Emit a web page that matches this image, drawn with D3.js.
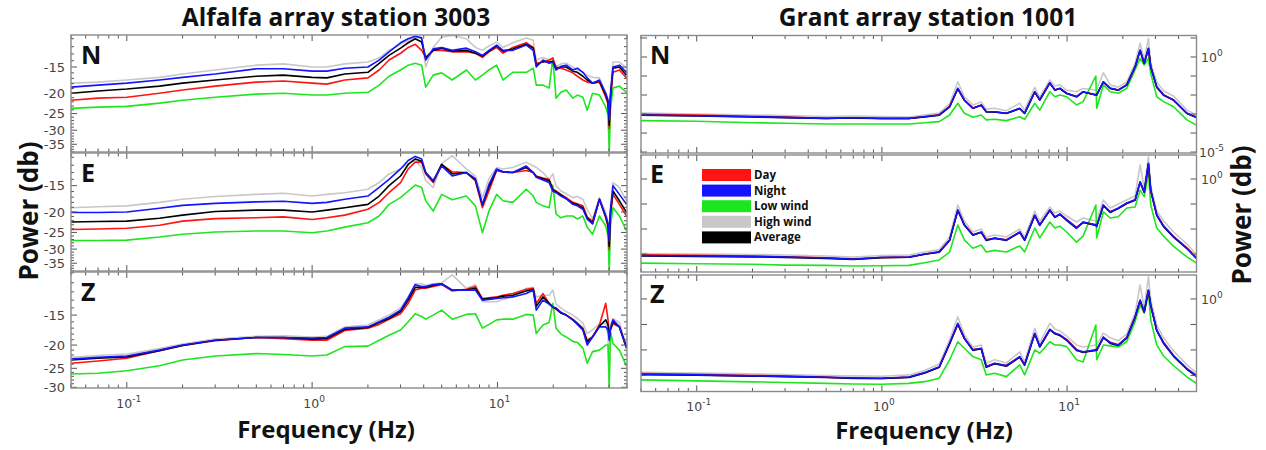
<!DOCTYPE html>
<html>
<head>
<meta charset="utf-8">
<script src="https://cdn.jsdelivr.net/npm/d3@7"></script>
<style>
  body { margin: 0; background: #fff; }
  text { font-family: "Open Sans", "DejaVu Sans", sans-serif; }
</style>
</head>
<body>
<script>
// ---- data: Alfalfa array station 3003 (power in dB) ----
var freqAlfalfa = [0.05, 0.07, 0.1, 0.15, 0.2, 0.3, 0.5, 0.7, 1.0, 1.2, 1.5, 2.0, 2.3, 2.6, 3.0, 3.3, 3.6, 3.9, 4.1, 4.5,
  5.0, 5.7, 6.8, 7.6, 8.3, 9.0, 9.9, 10.7, 12.1, 14.3, 15.6, 16.2, 17.6, 19.0, 19.9, 20.7, 22, 23.5, 25.5, 27,
  28.9, 30.5, 32.6, 35.5, 38.4, 39.5, 40.1, 40.7, 42, 45.5, 49.7];

var alfN_day   = [-21.6,-21.1,-20.9,-20.0,-19.3,-18.5,-17.7,-17.5,-17.9,-18.1,-17.3,-16.9,-15.5,-13.9,-12.9,-12.1,-11.7,-12.5,-13.5,-12.5,-12.5,-12.7,-12.7,-12.9,-13.5,-12.7,-12.1,-12.9,-12.1,-11.5,-12.1,-14.4,-14.2,-13.9,-13.6,-15.0,-15.2,-15.5,-16.0,-16.6,-17.3,-17.7,-17.9,-17.7,-20.9,-22.5,-29.4,-21.6,-15.9,-15.5,-16.9];
var alfN_night = [-18.7,-18.3,-17.9,-17.3,-16.8,-16.2,-15.3,-15.3,-15.7,-15.7,-15.2,-15.0,-13.9,-12.7,-11.5,-11.0,-10.7,-10.9,-13.9,-12.3,-12.1,-12.5,-12.2,-12.7,-13.2,-12.5,-11.8,-12.5,-12.5,-11.8,-12.5,-15.0,-13.9,-14.4,-14.2,-15.5,-14.9,-14.7,-15.5,-15.2,-15.9,-16.9,-17.9,-17.3,-20.0,-21.6,-26.9,-20.4,-15.0,-14.7,-15.9];
var alfN_low   = [-23.6,-23.3,-23.1,-22.3,-21.6,-20.9,-20.2,-20.0,-20.4,-20.4,-20.0,-19.8,-18.3,-16.6,-15.5,-14.7,-14.4,-14.7,-18.7,-16.4,-16.0,-17.3,-15.5,-17.3,-16.4,-15.5,-14.7,-17.3,-15.9,-15.9,-15.2,-18.3,-18.3,-18.9,-13.6,-21.1,-19.8,-19.3,-21.1,-20.4,-20.9,-24.1,-20.0,-20.4,-23.3,-25.5,-37.5,-24.1,-18.9,-18.5,-19.8];
var alfN_high  = [-17.9,-17.7,-17.3,-16.8,-16.2,-15.5,-14.7,-14.5,-15.0,-15.0,-14.5,-14.2,-13.6,-12.5,-11.7,-11.2,-10.8,-11.0,-15.0,-12.1,-10.8,-10.6,-11.0,-12.1,-12.5,-11.9,-11.4,-12.1,-11.5,-10.9,-11.2,-13.9,-13.5,-13.9,-14.4,-14.9,-14.5,-14.4,-15.0,-15.5,-15.9,-16.4,-16.8,-16.9,-20.0,-21.6,-37.5,-19.3,-14.2,-14.2,-15.2];
var alfN_avg   = [-20.0,-19.5,-19.1,-18.5,-17.9,-17.3,-16.6,-16.4,-16.8,-16.9,-16.2,-15.9,-14.4,-13.2,-12.2,-11.5,-11.0,-11.4,-13.6,-12.5,-12.2,-12.6,-12.5,-12.9,-13.3,-12.6,-11.9,-12.6,-12.3,-11.7,-12.2,-14.7,-14.1,-14.2,-14.1,-15.3,-15.0,-15.0,-15.7,-15.9,-16.6,-17.3,-17.9,-17.5,-20.4,-22.1,-28.4,-20.9,-15.2,-15.0,-16.4];

var alfE_day   = [-24.2,-24.1,-23.9,-23.1,-22.1,-21.5,-21.3,-21.1,-21.7,-21.3,-20.7,-19.4,-18.0,-16.2,-14.5,-12.5,-11.6,-11.6,-13.2,-14.5,-11.9,-12.9,-13.0,-14.2,-19.1,-15.9,-12.7,-12.9,-13.0,-12.7,-13.0,-13.5,-13.8,-14.0,-15.6,-15.9,-16.5,-17.1,-18.0,-18.3,-18.7,-21.1,-22.1,-17.4,-21.3,-23.6,-30.1,-20.7,-16.5,-18.4,-20.9];
var alfE_night = [-20.1,-20.1,-20.0,-19.2,-18.6,-18.2,-17.9,-17.8,-18.2,-18.0,-17.4,-16.8,-15.3,-14.0,-12.5,-11.4,-10.9,-11.2,-13.0,-14.2,-12.1,-13.5,-13.0,-13.9,-18.4,-14.8,-12.5,-12.9,-13.0,-12.1,-13.0,-13.7,-14.1,-14.5,-15.9,-16.2,-16.8,-17.3,-18.4,-18.7,-19.4,-21.6,-22.8,-17.4,-20.9,-22.6,-27.5,-19.8,-15.0,-16.5,-18.4];
var alfE_low   = [-27.3,-27.3,-27.2,-26.3,-25.5,-24.9,-24.6,-24.6,-25.1,-24.6,-23.6,-22.5,-20.9,-18.4,-17.1,-15.9,-14.9,-15.3,-17.7,-19.8,-16.5,-17.5,-16.8,-18.7,-25.1,-19.8,-16.5,-17.7,-18.0,-15.6,-16.8,-18.0,-18.7,-19.1,-14.9,-20.4,-21.3,-20.9,-20.9,-21.6,-20.9,-23.6,-25.5,-20.9,-23.3,-26.0,-38.0,-23.3,-19.1,-20.9,-24.6];
var alfE_high  = [-19.1,-18.9,-18.7,-18.0,-17.4,-16.9,-16.5,-16.3,-16.8,-16.5,-16.2,-15.6,-14.5,-13.2,-12.5,-11.8,-11.4,-12.3,-14.2,-15.3,-11.8,-10.8,-12.5,-13.5,-17.1,-13.9,-12.3,-12.5,-12.3,-11.6,-12.1,-12.3,-13.0,-14.0,-13.2,-15.0,-15.9,-16.4,-17.1,-16.9,-17.4,-19.5,-21.5,-17.1,-20.1,-22.1,-35.4,-18.7,-14.5,-15.3,-17.7];
var alfE_avg   = [-22.3,-22.2,-22.1,-21.4,-20.7,-19.9,-19.6,-19.6,-20.0,-19.6,-19.1,-18.4,-16.8,-15.0,-13.5,-11.9,-11.2,-11.5,-13.0,-14.3,-11.9,-13.2,-13.0,-14.1,-18.5,-15.2,-12.6,-12.9,-13.0,-12.3,-13.0,-13.6,-13.9,-14.2,-15.7,-16.0,-16.6,-17.3,-18.2,-18.5,-19.1,-21.4,-22.6,-17.4,-21.1,-23.1,-29.1,-20.2,-15.9,-17.7,-20.1];

var alfZ_day   = [-23.8,-23.3,-22.7,-21.1,-20.1,-19.2,-18.6,-18.8,-19.1,-19.1,-17.4,-17.0,-16.4,-15.6,-14.8,-13.4,-11.8,-11.6,-11.6,-11.4,-11.2,-11.9,-11.7,-11.4,-12.8,-12.7,-12.6,-12.4,-12.2,-11.7,-11.6,-13.4,-12.2,-13.4,-13.9,-14.2,-14.7,-15.0,-15.6,-16.2,-17.0,-19.1,-18.5,-16.5,-13.4,-15.7,-18.2,-17.3,-16.3,-16.8,-20.3];
var alfZ_night = [-22.9,-22.5,-22.2,-21.0,-20.0,-19.1,-18.6,-18.6,-18.7,-18.6,-17.0,-16.8,-16.0,-15.3,-14.3,-12.7,-11.2,-11.4,-11.4,-11.2,-11.1,-11.8,-11.8,-11.8,-13.0,-12.9,-12.8,-12.7,-12.6,-12.2,-11.8,-14.3,-13.0,-13.5,-13.9,-14.0,-14.6,-15.0,-15.7,-16.4,-17.3,-20.0,-18.5,-16.8,-16.8,-17.3,-19.1,-17.0,-15.7,-16.8,-20.6];
var alfZ_low   = [-26.4,-26.2,-25.6,-24.4,-23.1,-22.2,-21.7,-21.9,-22.2,-22.0,-20.3,-20.2,-19.1,-18.2,-17.3,-16.0,-14.8,-15.2,-15.6,-15.0,-14.3,-15.6,-14.9,-14.8,-17.0,-16.4,-15.7,-15.6,-15.6,-14.9,-15.0,-17.9,-16.5,-16.1,-13.4,-17.0,-18.0,-18.5,-19.3,-19.5,-20.6,-23.8,-21.3,-21.0,-20.0,-20.0,-30.0,-17.6,-19.7,-21.0,-24.5];
var alfZ_high  = [-22.5,-22.1,-21.8,-20.7,-19.8,-18.9,-18.4,-18.3,-18.5,-18.4,-16.8,-16.5,-15.7,-15.0,-14.0,-12.6,-11.1,-11.1,-11.3,-11.1,-11.0,-10.2,-11.6,-11.2,-13.2,-13.2,-13.2,-12.9,-12.6,-11.6,-11.5,-12.6,-12.4,-12.4,-11.8,-13.5,-14.0,-14.5,-15.0,-15.5,-16.2,-17.9,-17.3,-16.3,-16.3,-18.2,-28.9,-16.5,-15.5,-16.1,-20.3];
var alfZ_avg   = [-23.1,-22.7,-22.4,-21.1,-20.1,-19.1,-18.6,-18.6,-18.9,-18.8,-17.2,-16.9,-16.1,-15.5,-14.5,-13.0,-11.5,-11.5,-11.5,-11.3,-11.1,-11.8,-11.8,-11.6,-12.9,-12.8,-12.7,-12.5,-12.4,-11.9,-11.7,-13.8,-12.6,-13.4,-13.9,-14.1,-14.7,-15.0,-15.7,-16.3,-17.2,-19.4,-18.5,-16.7,-15.7,-16.5,-18.7,-17.2,-16.0,-16.8,-20.5];

// ---- data: Grant array station 1001 (power) ----
var freqGrant = [0.05, 0.1, 0.2, 0.3, 0.5, 0.7, 1.0, 1.4, 1.7, 2.04, 2.32, 2.57, 2.79, 3.1, 3.44, 3.66, 4.06, 4.7, 5.55, 5.9,
  6.69, 7.12, 8.07, 8.59, 9.15, 9.94, 11.25, 12.2, 14.3, 14.45, 15.7, 17.1, 18.9, 21.0, 23.3, 24.8, 26.1, 27.5, 28.3, 30.5,
  33.2, 37.6, 44.4, 50];

var grN_day   = [9.7e-4,8.8e-4,7.6e-4,6.9e-4,6.0e-4,6.1e-4,5.8e-4,5.9e-4,7.4e-4,9.2e-4,2.5e-3,2.1e-2,5.2e-3,2.1e-3,2.9e-3,1.35e-3,1.3e-3,1.1e-3,1.9e-3,1.1e-3,1.4e-2,5.6e-3,4.2e-2,1.9e-2,2.2e-2,1.25e-2,8.3e-3,1.45e-2,1.05e-2,1.02e-2,4.8e-2,2.3e-2,1.8e-2,3.5e-2,0.30,2.2,0.46,2.8,0.32,2.6e-2,1.05e-2,5.3e-3,1.1e-3,6.8e-4];
var grN_night = [8.85e-4,8.1e-4,7.2e-4,6.7e-4,5.9e-4,6.4e-4,5.9e-4,5.9e-4,7.2e-4,8.85e-4,2.4e-3,2.25e-2,5.5e-3,2.0e-3,3.0e-3,1.32e-3,1.32e-3,1.09e-3,2.0e-3,1.09e-3,1.49e-2,5.5e-3,4.4e-2,1.83e-2,2.25e-2,1.23e-2,8.1e-3,1.49e-2,1.0e-2,1.0e-2,5.0e-2,2.25e-2,1.83e-2,3.4e-2,0.31,2.3,0.47,2.9,0.31,2.7e-2,1.0e-2,5.5e-3,1.09e-3,6.7e-4];
var grN_low   = [4.5e-4,4.2e-4,3.5e-4,3.3e-4,3.0e-4,3.0e-4,3.0e-4,3.0e-4,3.5e-4,4.0e-4,8.9e-4,3.7e-3,1.09e-3,6.7e-4,8.9e-4,4.9e-4,5.3e-4,4.5e-4,7.2e-4,5.3e-4,3.7e-3,1.6e-3,1.49e-2,8.1e-3,1.0e-2,8.1e-3,3.0e-3,4.5e-3,0.1,2.0e-3,3.4e-2,1.49e-2,1.23e-2,2.25e-2,0.207,0.85,0.38,0.85,0.139,8.1e-3,4.5e-3,2.4e-3,4.9e-4,2.6e-4];
var grN_high  = [1.12e-3,1.0e-3,8.9e-4,8.3e-4,7.4e-4,7.8e-4,7.4e-4,7.0e-4,8.9e-4,1.12e-3,3.4e-3,5.0e-2,8.1e-3,3.0e-3,4.3e-3,1.8e-3,2.0e-3,1.5e-3,3.7e-3,1.6e-3,2.5e-2,7.8e-3,6.2e-2,3.0e-2,3.4e-2,1.83e-2,1.49e-2,2.2e-2,1.83e-2,1.83e-2,0.149,3.4e-2,2.6e-2,4.8e-2,0.47,5.3,0.70,9.6,0.48,4.8e-2,1.62e-2,8.9e-3,1.6e-3,8.9e-4];
var grN_avg   = [8.6e-4,7.9e-4,7.0e-4,6.5e-4,5.8e-4,6.2e-4,5.8e-4,5.8e-4,7.0e-4,8.7e-4,2.35e-3,2.2e-2,5.3e-3,2.0e-3,2.9e-3,1.3e-3,1.28e-3,1.07e-3,1.95e-3,1.07e-3,1.45e-2,5.4e-3,4.3e-2,1.8e-2,2.2e-2,1.2e-2,8.0e-3,1.45e-2,1.0e-2,9.8e-3,4.9e-2,2.2e-2,1.8e-2,3.3e-2,0.30,2.2,0.46,2.8,0.30,2.6e-2,9.8e-3,5.4e-3,1.07e-3,6.6e-4];

var grE_day   = [9.2e-4,8.8e-4,8.3e-4,7.8e-4,7.0e-4,6.4e-4,7.2e-4,7.5e-4,9.8e-4,1.25e-3,3.5e-3,5.5e-2,1.5e-2,6.0e-3,7.2e-3,3.8e-3,4.2e-3,3.7e-3,7.2e-3,3.8e-3,3.4e-2,1.5e-2,5.5e-2,3.1e-2,3.8e-2,2.4e-2,1.15e-2,1.8e-2,1.5e-2,1.35e-2,8.6e-2,5.0e-2,6.5e-2,0.105,0.15,0.74,0.30,4.0,0.34,3.8e-2,1.35e-2,5.1e-3,1.75e-3,7.0e-4];
var grE_night = [8.7e-4,8.3e-4,8.0e-4,7.6e-4,6.9e-4,6.2e-4,7.4e-4,7.6e-4,1.0e-3,1.2e-3,3.6e-3,5.8e-2,1.45e-2,5.8e-3,7.6e-3,3.6e-3,4.4e-3,3.6e-3,7.6e-3,3.6e-3,3.6e-2,1.45e-2,5.8e-2,3.0e-2,4.0e-2,2.3e-2,1.1e-2,1.9e-2,1.45e-2,1.3e-2,9.1e-2,4.8e-2,6.9e-2,0.11,0.145,0.78,0.31,4.2,0.36,3.6e-2,1.3e-2,4.9e-3,1.7e-3,6.8e-4];
var grE_low   = [4.3e-4,4.1e-4,3.9e-4,3.6e-4,3.5e-4,3.3e-4,3.4e-4,3.5e-4,4.5e-4,5.8e-4,1.2e-3,1.45e-2,3.6e-3,1.7e-3,2.3e-3,1.2e-3,1.4e-3,1.2e-3,2.1e-3,1.2e-3,1.1e-2,4.4e-3,1.9e-2,1.1e-2,1.3e-2,7.6e-3,3.0e-3,5.2e-3,9.1e-2,4.4e-3,4.8e-2,2.75e-2,3.1e-2,6.9e-2,7.6e-2,0.36,0.196,1.69,9.1e-2,1.1e-2,5.2e-3,2.0e-3,7.7e-4,4.3e-4];
var grE_high  = [1.05e-3,1.0e-3,9.6e-4,9.1e-4,8.3e-4,7.6e-4,8.7e-4,9.1e-4,1.2e-3,1.5e-3,4.8e-3,9.1e-2,2.1e-2,7.6e-3,1.0e-2,4.8e-3,5.8e-3,4.8e-3,1.0e-2,4.8e-3,5.2e-2,2.1e-2,7.6e-2,4.4e-2,5.2e-2,3.3e-2,1.9e-2,2.75e-2,2.1e-2,2.1e-2,0.145,6.9e-2,0.1,0.145,0.209,3.63,0.436,7.8,0.525,5.2e-2,2.1e-2,7.6e-3,2.5e-3,9.1e-4];
var grE_avg   = [8.4e-4,8.0e-4,7.7e-4,7.3e-4,6.7e-4,6.1e-4,7.1e-4,7.4e-4,9.7e-4,1.17e-3,3.5e-3,5.6e-2,1.4e-2,5.6e-3,7.4e-3,3.5e-3,4.3e-3,3.5e-3,7.4e-3,3.5e-3,3.5e-2,1.4e-2,5.6e-2,2.9e-2,3.9e-2,2.2e-2,1.07e-2,1.85e-2,1.4e-2,1.25e-2,8.8e-2,4.6e-2,6.7e-2,0.105,0.14,0.75,0.30,4.0,0.35,3.5e-2,1.25e-2,4.7e-3,1.65e-3,6.6e-4];

var grZ_day   = [1.18e-3,1.1e-3,1.0e-3,9.5e-4,8.6e-4,7.6e-4,7.7e-4,8.5e-4,1.25e-3,2.1e-3,1.7e-2,0.10,2.8e-2,1.05e-2,1.12e-2,2.3e-3,2.9e-3,2.5e-3,5.2e-3,2.7e-3,4.3e-2,1.4e-2,6.2e-2,4.6e-2,3.7e-2,2.6e-2,1.05e-2,8.0e-3,1.05e-2,1.0e-2,3.0e-2,2.0e-2,1.6e-2,3.1e-2,0.19,0.85,0.31,2.1,0.55,5.8e-2,2.0e-2,6.0e-3,1.85e-3,1.0e-3];
var grZ_night = [1.11e-3,1.05e-3,9.6e-4,9.2e-4,8.5e-4,8.0e-4,7.8e-4,8.7e-4,1.29e-3,2.2e-3,1.83e-2,0.111,2.9e-2,1.0e-2,1.17e-2,2.2e-3,3.0e-3,2.4e-3,5.5e-3,2.6e-3,4.5e-2,1.35e-2,6.5e-2,4.5e-2,3.9e-2,2.5e-2,1.0e-2,8.4e-3,1.0e-2,1.0e-2,3.2e-2,1.9e-2,1.57e-2,3.0e-2,0.20,0.91,0.32,2.25,0.58,6.0e-2,1.9e-2,5.8e-3,1.8e-3,9.6e-4];
var grZ_low   = [6.7e-4,6.1e-4,5.6e-4,5.3e-4,4.9e-4,4.6e-4,4.5e-4,4.9e-4,5.7e-4,7.8e-4,4.1e-3,2.1e-2,1.17e-2,5.5e-3,4.1e-3,1.05e-3,1.22e-3,9.0e-4,2.6e-3,1.05e-3,1.0e-2,7.4e-3,2.1e-2,1.57e-2,1.57e-2,1.35e-2,4.1e-3,3.4e-3,9.5e-2,4.1e-3,1.57e-2,1.44e-2,1.31e-2,2.1e-2,0.129,0.58,0.275,1.67,0.15,1.57e-2,5.8e-3,2.4e-3,8.7e-4,4.9e-4];
var grZ_high  = [1.33e-3,1.25e-3,1.15e-3,1.09e-3,1.0e-3,9.6e-4,9.3e-4,1.05e-3,1.57e-3,2.8e-3,2.5e-2,0.20,3.9e-2,1.3e-2,1.57e-2,3.0e-3,4.1e-3,3.1e-3,8.4e-3,3.4e-3,7.1e-2,1.9e-2,0.111,6.7e-2,5.6e-2,3.5e-2,1.57e-2,1.31e-2,1.57e-2,1.57e-2,4.6e-2,3.0e-2,2.3e-2,4.2e-2,0.28,3.54,0.44,7.5,0.91,9.5e-2,3.0e-2,9.1e-3,2.6e-3,1.25e-3];
var grZ_avg   = [1.08e-3,1.02e-3,9.4e-4,9.0e-4,8.3e-4,7.8e-4,7.6e-4,8.4e-4,1.25e-3,2.1e-3,1.75e-2,0.105,2.8e-2,9.6e-3,1.12e-2,2.1e-3,2.9e-3,2.3e-3,5.3e-3,2.5e-3,4.3e-2,1.3e-2,6.2e-2,4.3e-2,3.7e-2,2.4e-2,9.6e-3,8.1e-3,9.6e-3,9.6e-3,3.1e-2,1.8e-2,1.5e-2,2.9e-2,0.19,0.87,0.31,2.15,0.55,5.8e-2,1.8e-2,5.6e-3,1.75e-3,9.2e-4];

// ---- series + tick labels ----
var seriesNames = ["Day", "Night", "Low wind", "High wind", "Average"];
var seriesColors = ["#ff1414", "#1414ff", "#1ee61e", "#c8c8c8", "#000000"];
var drawOrder = [3, 2, 0, 4, 1];
var panelLetters = ["N", "E", "Z"];
var dbTicks = [[-15, -20, -25, -30, -35], [-15, -20, -25, -30, -35], [-15, -20, -25, -30]];
var freqTicks = [0.1, 1, 10];

var svg = d3.select("body").append("svg")
  .attr("width", 1266)
  .attr("height", 450);

var xLeft = d3.scaleLog().domain([0.05, 50]).range([71, 627]);
var xRight = d3.scaleLog().domain([0.05, 50]).range([641, 1196.5]);

var leftPanels = [
  { top: 35, bottom: 152, dom: [-10.56, -38.1], data: [alfN_day, alfN_night, alfN_low, alfN_high, alfN_avg] },
  { top: 153, bottom: 271, dom: [-10.5, -38.1], data: [alfE_day, alfE_night, alfE_low, alfE_high, alfE_avg] },
  { top: 272, bottom: 388, dom: [-9.92, -30.2], data: [alfZ_day, alfZ_night, alfZ_low, alfZ_high, alfZ_avg] }
];
var rightPanels = [
  { top: 35.5, bottom: 153, dom: [Math.pow(10, 1.13), Math.pow(10, -5.05)], data: [grN_day, grN_night, grN_low, grN_high, grN_avg] },
  { top: 155, bottom: 272, dom: [Math.pow(10, 0.96), Math.pow(10, -3.72)], data: [grE_day, grE_night, grE_low, grE_high, grE_avg] },
  { top: 275, bottom: 391.5, dom: [Math.pow(10, 0.94), Math.pow(10, -3.63)], data: [grZ_day, grZ_night, grZ_low, grZ_high, grZ_avg] }
];

var frameColor = "#8a8a8a";
var tickColor = "#555";
var labelColor = "#444";

function xMinorTicks() {
  var out = [];
  [0.01, 0.1, 1, 10].forEach(function(d) {
    for (var k = 2; k <= 9; k++) {
      var v = d * k;
      if (v >= 0.05 && v <= 50) out.push(v);
    }
  });
  return out;
}

function drawXTicks(g, x, top, bottom) {
  var majors = freqTicks, minors = xMinorTicks();
  [[majors, 6], [minors, 3.5]].forEach(function(set) {
    set[0].forEach(function(v) {
      g.append("line").attr("x1", x(v)).attr("x2", x(v)).attr("y1", top).attr("y2", top + set[1])
        .attr("stroke", tickColor).attr("stroke-width", 1);
      g.append("line").attr("x1", x(v)).attr("x2", x(v)).attr("y1", bottom).attr("y2", bottom - set[1])
        .attr("stroke", tickColor).attr("stroke-width", 1);
    });
  });
}

function drawSeries(g, x, y, freq, data, clipId) {
  var line = d3.line()
    .x(function(d) { return x(d[0]); })
    .y(function(d) { return y(d[1]); });
  var lg = g.append("g").attr("clip-path", "url(#" + clipId + ")");
  drawOrder.forEach(function(i) {
    var pts = freq.map(function(f, j) { return [f, data[i][j]]; });
    lg.append("path").datum(pts)
      .attr("d", line)
      .attr("fill", "none")
      .attr("stroke", seriesColors[i])
      .attr("stroke-width", 1.6)
      .attr("stroke-linejoin", "round");
  });
}

function expLabel(g, xPos, yPos, exp, anchor) {
  var t = g.append("text").attr("x", xPos).attr("y", yPos)
    .attr("text-anchor", anchor).attr("fill", labelColor)
    .style("font-family", "'DejaVu Sans', sans-serif").style("font-size", "12.5px");
  t.append("tspan").text("10");
  t.append("tspan").attr("dy", -6).style("font-size", "9px").text(exp);
  return t;
}

var defs = svg.append("defs");

// left side: Alfalfa
leftPanels.forEach(function(p, pi) {
  var g = svg.append("g");
  var y = d3.scaleLog().domain(p.dom).range([p.top, p.bottom]);
  var clipId = "clipL" + pi;
  defs.append("clipPath").attr("id", clipId).append("rect")
    .attr("x", 71).attr("y", p.top).attr("width", 556).attr("height", p.bottom - p.top);

  drawSeries(g, xLeft, y, freqAlfalfa, p.data, clipId);

  // y ticks: labelled every 5 dB, minor every 1 dB
  var majors = dbTicks[pi];
  var minors = d3.range(Math.ceil(p.dom[1]), Math.floor(p.dom[0]) + 1).filter(function(v) { return majors.indexOf(v) < 0; });
  [[majors, 6], [minors, 3]].forEach(function(set) {
    set[0].forEach(function(v) {
      g.append("line").attr("x1", 71).attr("x2", 71 + set[1]).attr("y1", y(v)).attr("y2", y(v))
        .attr("stroke", tickColor);
      g.append("line").attr("x1", 627).attr("x2", 627 - set[1]).attr("y1", y(v)).attr("y2", y(v))
        .attr("stroke", tickColor);
    });
  });
  majors.forEach(function(v) {
    g.append("text").attr("x", 65).attr("y", y(v)).attr("dy", "0.35em")
      .attr("text-anchor", "end").attr("fill", labelColor)
      .style("font-family", "'DejaVu Sans', sans-serif").style("font-size", "13px")
      .text(v);
  });
  drawXTicks(g, xLeft, p.top, p.bottom);

  g.append("rect").attr("x", 71).attr("y", p.top).attr("width", 556).attr("height", p.bottom - p.top)
    .attr("fill", "none").attr("stroke", frameColor).attr("stroke-width", 1.4);

  g.append("text").attr("x", 81).attr("y", p.top + 29)
    .style("font-weight", "bold").style("font-size", "25px").attr("fill", "#111")
    .text(panelLetters[pi]);
});

// right side: Grant
rightPanels.forEach(function(p, pi) {
  var g = svg.append("g");
  var y = d3.scaleLog().domain(p.dom).range([p.top, p.bottom]);
  var clipId = "clipR" + pi;
  defs.append("clipPath").attr("id", clipId).append("rect")
    .attr("x", 641).attr("y", p.top).attr("width", 555.5).attr("height", p.bottom - p.top);

  drawSeries(g, xRight, y, freqGrant, p.data, clipId);

  var decades = d3.range(-5, 2).map(function(e) { return Math.pow(10, e); })
    .filter(function(v) { return v <= p.dom[0] && v >= p.dom[1] * 0.999; });
  decades.forEach(function(v) {
    g.append("line").attr("x1", 641).attr("x2", 647).attr("y1", y(v)).attr("y2", y(v)).attr("stroke", tickColor);
    g.append("line").attr("x1", 1196.5).attr("x2", 1190.5).attr("y1", y(v)).attr("y2", y(v)).attr("stroke", tickColor);
  });
  expLabel(g, 1201, y(1) + 5, "0", "start");
  if (pi === 0) expLabel(g, 1199, y(1e-5) + 5, "-5", "start");

  drawXTicks(g, xRight, p.top, p.bottom);

  g.append("rect").attr("x", 641).attr("y", p.top).attr("width", 555.5).attr("height", p.bottom - p.top)
    .attr("fill", "none").attr("stroke", frameColor).attr("stroke-width", 1.4);

  g.append("text").attr("x", 650).attr("y", p.top + 28)
    .style("font-weight", "bold").style("font-size", "25px").attr("fill", "#111")
    .text(panelLetters[pi]);
});

// x tick labels
freqTicks.forEach(function(v, i) {
  var e = String(i - 1);
  expLabel(svg, xLeft(v) + 2, 408, e, "middle");
  expLabel(svg, xRight(v) + 2, 411, e, "middle");
});

// legend (inside Grant E panel)
var legend = svg.append("g").attr("transform", "translate(702,169)");
seriesNames.forEach(function(name, i) {
  legend.append("rect").attr("x", 0).attr("y", i * 15.6).attr("width", 49).attr("height", 12)
    .attr("fill", seriesColors[i]);
  legend.append("text").attr("x", 52).attr("y", i * 15.6 + 6).attr("dy", "0.35em")
    .style("font-weight", "bold").style("font-size", "11.5px").attr("fill", "#111")
    .text(name);
});

// titles
svg.append("text").attr("x", 336).attr("y", 26).attr("text-anchor", "middle")
  .style("font-weight", "bold").style("font-size", "24.5px").attr("fill", "#111")
  .text("Alfalfa array station 3003");
svg.append("text").attr("x", 928).attr("y", 26).attr("text-anchor", "middle")
  .style("font-weight", "bold").style("font-size", "24.5px").attr("fill", "#111")
  .text("Grant array station 1001");

svg.append("text").attr("transform", "translate(38,211) rotate(-90)").attr("text-anchor", "middle")
  .style("font-weight", "bold").style("font-size", "26px").attr("fill", "#111")
  .text("Power (db)");
svg.append("text").attr("transform", "translate(1251,215) rotate(-90)").attr("text-anchor", "middle")
  .style("font-weight", "bold").style("font-size", "26px").attr("fill", "#111")
  .text("Power (db)");

svg.append("text").attr("x", 326).attr("y", 438).attr("text-anchor", "middle")
  .style("font-weight", "bold").style("font-size", "24px").attr("fill", "#111")
  .text("Frequency (Hz)");
svg.append("text").attr("x", 924).attr("y", 439).attr("text-anchor", "middle")
  .style("font-weight", "bold").style("font-size", "24px").attr("fill", "#111")
  .text("Frequency (Hz)");
</script>
</body>
</html>
